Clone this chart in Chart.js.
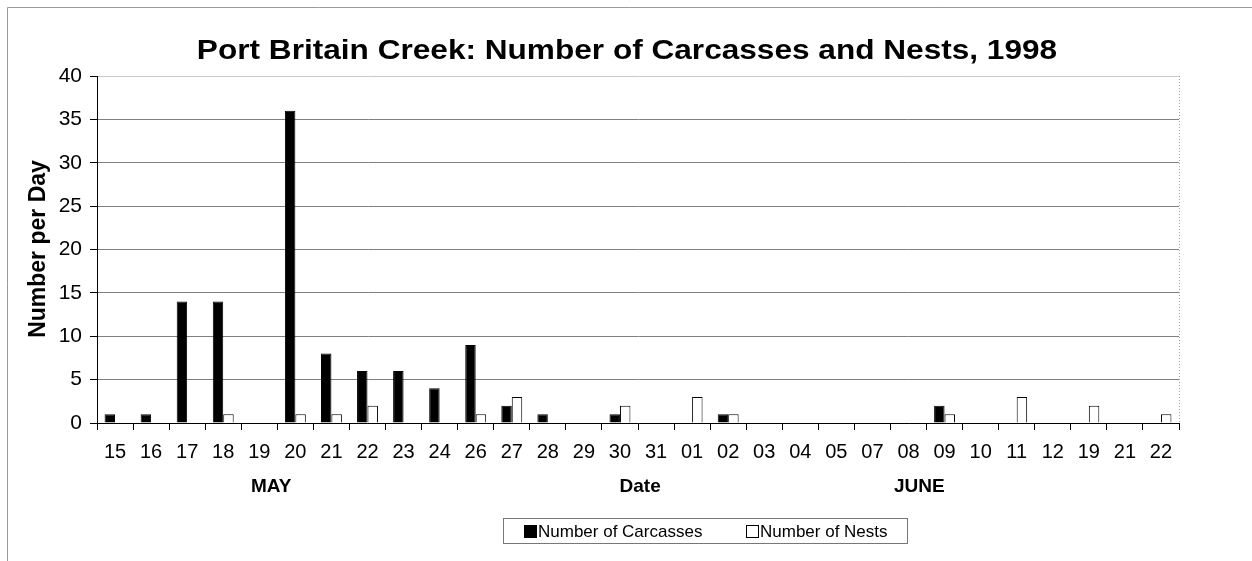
<!DOCTYPE html>
<html>
<head>
<meta charset="utf-8">
<script src="https://cdn.jsdelivr.net/npm/chart.js@4/dist/chart.umd.min.js"></script>
<style>
  html, body { margin: 0; padding: 0; background: #fff; }
  #wrap { width: 1252px; height: 561px; position: relative; }
</style>
</head>
<body>
<div id="wrap"><canvas id="c" width="1252" height="561"></canvas></div>
<script>
// Survey days (May 15 – June 22, 1998)
const dates = ['15','16','17','18','19','20','21','22','23','24','26','27','28','29','30','31',
               '01','02','03','04','05','07','08','09','10','11','12','19','21','22'];
const carcasses = [1,1,14,14,0,36,8,6,6,4,9,2,1,0,1,0,0,1,0,0,0,0,0,2,0,0,0,0,0,0];
const nests     = [0,0,0,1,0,1,1,2,0,0,1,3,0,0,2,0,3,1,0,0,0,0,0,1,0,3,0,2,0,1];
const yTicks = [0,5,10,15,20,25,30,35,40];

// Month / axis captions under the dates, placed at fractional category positions
const captions = [
  { text: 'MAY',  at: 4.33 },
  { text: 'Date', at: 14.56 },
  { text: 'JUNE', at: 22.3 }
];

const FONT = 'Arial, "Liberation Sans", sans-serif';

// Frame, title, axis title, captions and boxed legend
const decor = {
  id: 'decor',
  beforeDraw(chart) {
    const ctx = chart.ctx;
    ctx.save();
    ctx.fillStyle = '#fff';
    ctx.fillRect(0, 0, chart.width, chart.height);
    ctx.strokeStyle = '#9a9a9a';
    ctx.lineWidth = 1;
    ctx.beginPath();
    ctx.moveTo(7.5, 570); ctx.lineTo(7.5, 7.5); ctx.lineTo(1252, 7.5);
    ctx.stroke();
    ctx.restore();
  },
  afterDraw(chart) {
    const ctx = chart.ctx;
    const a = chart.chartArea;
    const x = chart.scales.x;
    ctx.save();
    // dotted right edge of the plot
    ctx.strokeStyle = '#a0a0a0';
    ctx.setLineDash([1, 2]);
    ctx.beginPath();
    ctx.moveTo(a.right + 0.5, a.top); ctx.lineTo(a.right + 0.5, a.bottom);
    ctx.stroke();
    ctx.setLineDash([]);

    ctx.fillStyle = '#000';
    ctx.textAlign = 'center';

    // title, drawn slightly widened
    ctx.save();
    ctx.translate(627, 59);
    ctx.scale(1.17, 1);
    ctx.font = 'bold 27px ' + FONT;
    ctx.textBaseline = 'alphabetic';
    ctx.fillText('Port Britain Creek: Number of Carcasses and Nests, 1998', 0, 0);
    ctx.restore();

    // y axis title
    ctx.save();
    ctx.translate(45, 249);
    ctx.rotate(-Math.PI / 2);
    ctx.font = 'bold 23px ' + FONT;
    ctx.textBaseline = 'alphabetic';
    ctx.fillText('Number per Day', 0, 0);
    ctx.restore();

    ctx.textBaseline = 'middle';
    ctx.font = 'bold 19px ' + FONT;
    captions.forEach(c => ctx.fillText(c.text, x.getPixelForValue(c.at), 487));

    // legend
    ctx.strokeStyle = '#777';
    ctx.lineWidth = 1;
    ctx.strokeRect(503.5, 518.5, 404, 25);
    const items = [
      { label: chart.data.datasets[0].label, fill: '#000', x: 524 },
      { label: chart.data.datasets[1].label, fill: '#fff', x: 746 }
    ];
    ctx.font = '17px ' + FONT;
    ctx.textAlign = 'left';
    items.forEach(it => {
      ctx.fillStyle = it.fill;
      ctx.fillRect(it.x + 0.5, 525.5, 12, 12);
      ctx.strokeStyle = '#000';
      ctx.strokeRect(it.x + 0.5, 525.5, 12, 12);
      ctx.fillStyle = '#000';
      ctx.fillText(it.label, it.x + 14, 532);
    });
    ctx.restore();
  }
};

new Chart(document.getElementById('c'), {
  type: 'bar',
  data: {
    labels: dates,
    datasets: [
      { label: 'Number of Carcasses', data: carcasses, backgroundColor: '#000', borderColor: '#000', borderWidth: 1 },
      { label: 'Number of Nests', data: nests, backgroundColor: '#fff', borderColor: '#000', borderWidth: 1 }
    ]
  },
  options: {
    responsive: false,
    animation: false,
    layout: { padding: { left: 10, top: 76, right: 73, bottom: 78 } },
    datasets: { bar: { categoryPercentage: 0.58, barPercentage: 1.0 } },
    plugins: { legend: { display: false }, title: { display: false }, tooltip: { enabled: false } },
    scales: {
      x: {
        grid: { offset: true, drawOnChartArea: false, drawTicks: true, tickLength: 7, color: '#000', tickColor: '#000' },
        border: { display: true, color: '#000', width: 1 },
        ticks: { color: '#000', font: { family: FONT, size: 20 }, padding: 10, maxRotation: 0, autoSkip: false },
        afterFit(s) { s.height = 60; }
      },
      y: {
        min: 0, max: 40,
        afterBuildTicks(s) { s.ticks = yTicks.map(v => ({ value: v })); },
        grid: { color: ctx => ctx.tick && ctx.tick.value === 40 ? '#c8c8c8' : '#808080', tickColor: '#000', tickLength: 7, drawTicks: true },
        border: { display: true, color: '#000', width: 1 },
        ticks: { color: '#000', font: { family: FONT, size: 21 }, padding: 8 },
        afterFit(s) { s.width = 87; }
      }
    }
  },
  plugins: [decor]
});
</script>
</body>
</html>
